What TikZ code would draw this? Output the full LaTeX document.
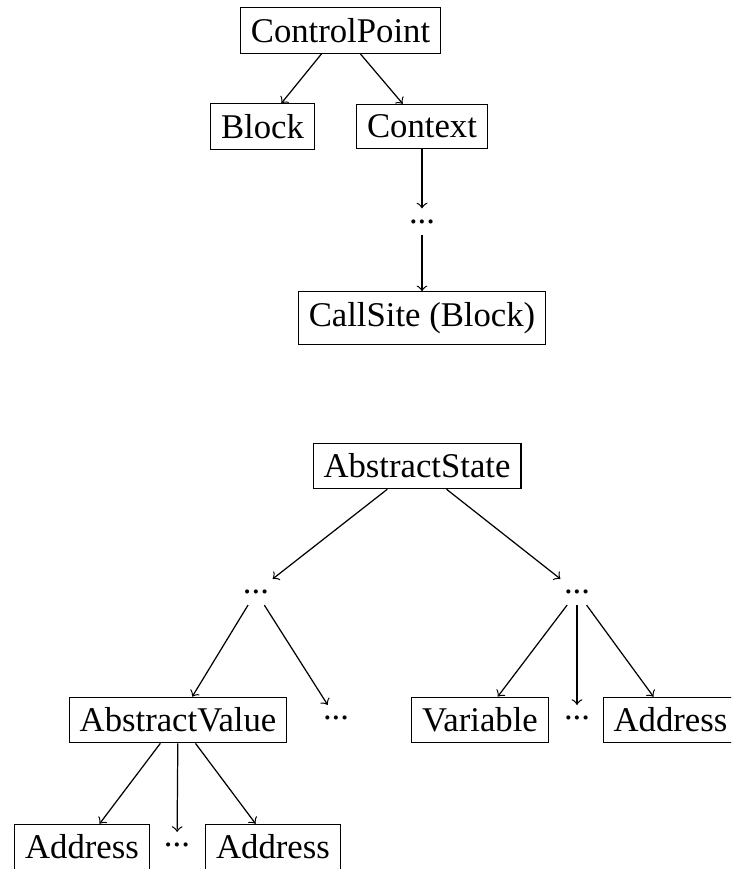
\documentclass[tikz,border=0pt]{standalone}
\usepackage{fontspec}
\setmainfont{Liberation Serif}
\begin{document}
\begin{tikzpicture}[x=0.3257pt,y=-0.3257pt,
  font=\fontsize{11.3pt}{13.5pt}\selectfont,
  box/.style={draw, inner sep=3.4pt},
  dotsn/.style={inner sep=3.4pt},
  edge/.style={->}]
\useasboundingbox (0,0) rectangle (731,869);
\clip (0,0) rectangle (731,869);
% top tree
\node[box] (cp) at (340.5,30.5) {ControlPoint};
\node[box] (blk) at (262.5,126.5) {Block};
\node[box] (ctx) at (422,126.5) {Context};
\node[dotsn] (d1) at (422,221.5) {...};
\node[box] (cs) at (422,318) {CallSite (Block)};
\draw[edge] (cp) -- (blk);
\draw[edge] (cp) -- (ctx);
\draw[edge] (ctx) -- (d1);
\draw[edge] (d1) -- (cs);
% bottom tree
\node[box] (as) at (417,466) {AbstractState};
\node[dotsn] (dl) at (256,592) {...};
\node[dotsn] (dr) at (577,592) {...};
\node[box] (av) at (178,720) {AbstractValue};
\node[dotsn] (dm) at (336,718) {...};
\node[box] (var) at (480,720) {Variable};
\node[dotsn] (dv) at (577,718) {...};
\node[box] (ad) at (670.5,720) {Address};
\node[box] (a1) at (82,847) {Address};
\node[dotsn] (db) at (177,845) {...};
\node[box] (a2) at (273,847) {Address};
\draw[edge] (as) -- (dl);
\draw[edge] (as) -- (dr);
\draw[edge] (dl) -- (av);
\draw[edge] (dl) -- (dm);
\draw[edge] (dr) -- (var);
\draw[edge] (dr) -- (dv);
\draw[edge] (dr) -- (ad);
\draw[edge] (av) -- (a1);
\draw[edge] (av) -- (db);
\draw[edge] (av) -- (a2);
\end{tikzpicture}
\end{document}
